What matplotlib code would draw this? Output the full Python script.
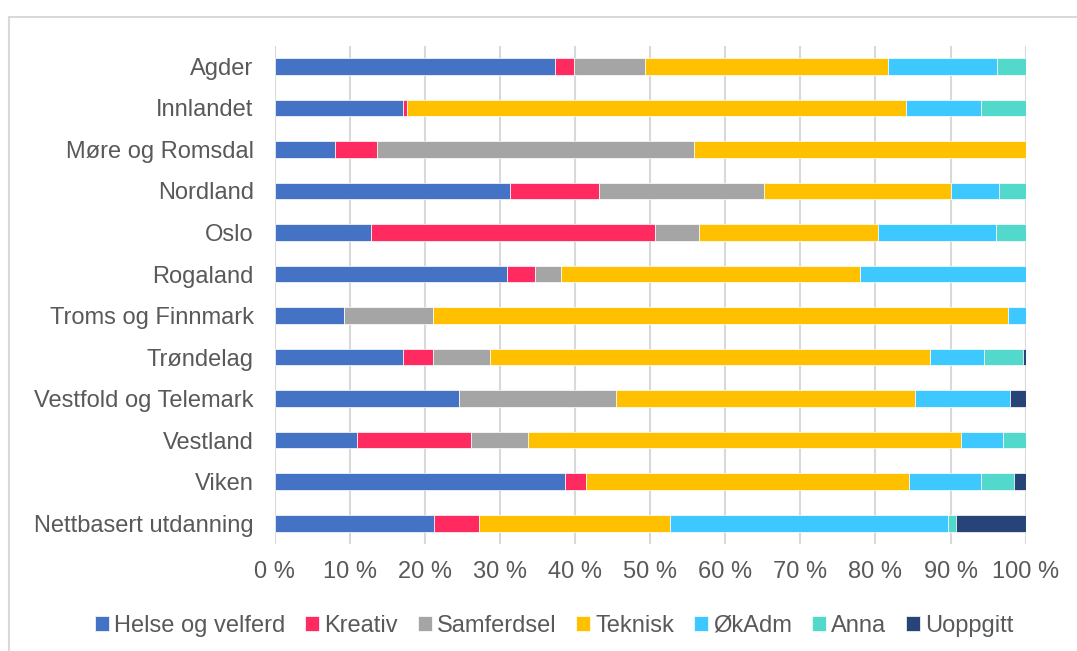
"""
Stacked bar chart: share of students per field, by county
"""
import matplotlib
import matplotlib.pyplot as plt
import numpy as np
from matplotlib.patches import Rectangle

matplotlib.use('Agg')
matplotlib.rcParams['font.family'] = ['Liberation Sans', 'DejaVu Sans']

regions = ['Agder', 'Innlandet', 'Møre og Romsdal', 'Nordland', 'Oslo', 'Rogaland',
           'Troms og Finnmark', 'Trøndelag', 'Vestfold og Telemark', 'Vestland',
           'Viken', 'Nettbasert utdanning']
series = ['Helse og velferd', 'Kreativ', 'Samferdsel', 'Teknisk', 'ØkAdm', 'Anna', 'Uoppgitt']

helse = [37.3, 17.1, 8.1, 31.3, 12.8, 31.0, 9.3, 17.1, 24.6, 11.0, 38.7, 21.2]
kreativ = [2.5, 0.5, 5.6, 11.9, 37.8, 3.7, 0.0, 4.0, 0.0, 15.2, 2.8, 6.0]
samferdsel = [9.5, 0.0, 42.1, 22.0, 5.9, 3.4, 11.8, 7.6, 20.9, 7.6, 0.0, 0.0]
teknisk = [32.3, 66.4, 44.2, 24.9, 23.8, 39.8, 76.5, 58.5, 39.7, 57.6, 43.0, 25.4]
okadm = [14.6, 10.1, 0.0, 6.4, 15.8, 22.1, 2.4, 7.2, 12.7, 5.6, 9.6, 37.1]
anna = [3.8, 5.9, 0.0, 3.5, 3.9, 0.0, 0.0, 5.3, 0.0, 3.0, 4.3, 1.0]
uoppgitt = [0.0, 0.0, 0.0, 0.0, 0.0, 0.0, 0.0, 0.3, 2.1, 0.0, 1.6, 9.3]

colors = ['#4472C4', '#FF2A5F', '#A5A5A5', '#FFC000', '#3DC8FF', '#52D9CB', '#264478']
text_col = '#595959'
grid_col = '#D9D9D9'


def stackedBars():
    """
    画出堆叠条形图
    """
    data = [helse, kreativ, samferdsel, teknisk, okadm, anna, uoppgitt]
    fig = plt.figure(figsize=(10.77, 6.51), dpi=100)
    ax = fig.add_axes([0.2549, 0.1644, 0.9524 - 0.2549, 0.930 - 0.1644])
    y = np.arange(len(regions))
    left = np.zeros(len(regions))
    for name, vals, c in zip(series, data, colors):
        vals = np.array(vals)
        ax.barh(y, vals, left=left, height=0.4, color=c, label=name,
                edgecolor='white', linewidth=0.5, zorder=3)
        left += vals

    ax.set_xlim(0, 100)
    ax.set_ylim(len(regions) - 0.5, -0.5)
    ax.set_xticks(np.arange(0, 101, 10))
    ax.set_xticklabels([f'{v} %' for v in range(0, 101, 10)])
    ax.set_yticks(y)
    ax.set_yticklabels(regions)
    ax.tick_params(axis='x', length=0, pad=12, labelsize=17, labelcolor=text_col)
    ax.tick_params(axis='y', length=0, pad=15, labelsize=17, labelcolor=text_col)
    ax.grid(axis='x', color=grid_col, linewidth=1.5, zorder=0)
    for s in ax.spines.values():
        s.set_visible(False)

    fig.legend(loc='center', bbox_to_anchor=(554 / 1077, 1 - 626 / 651), ncol=7,
               frameon=False, fontsize=17, labelcolor=text_col,
               handlelength=0.6, handleheight=0.6, handletextpad=0.2,
               columnspacing=0.85, borderaxespad=0)

    fig.patches.append(Rectangle((9 / 1077, -0.1), 1.2, 1.1 - 17 / 651,
                                 transform=fig.transFigure, fill=False,
                                 edgecolor=grid_col, linewidth=1.5))
    fig.savefig('out.png', dpi=100)


if __name__ == '__main__':
    stackedBars()
